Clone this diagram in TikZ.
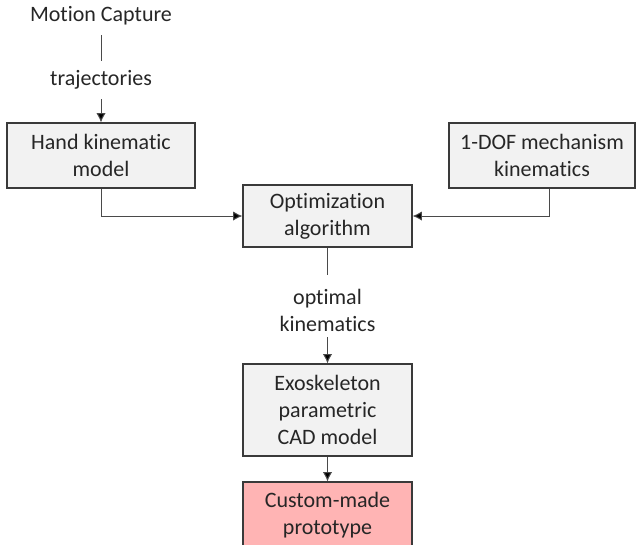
\documentclass[tikz,border=0pt]{standalone}
\usepackage{fontspec}
\setmainfont[Ligatures={NoCommon}]{Carlito}
\usetikzlibrary{arrows.meta}
\definecolor{boxgray}{HTML}{F2F2F2}
\definecolor{boxpink}{HTML}{FFB4B4}
\definecolor{edge}{HTML}{3A3A3A}
\definecolor{conn}{HTML}{4A4A4A}
\begin{document}
\begin{tikzpicture}[x=0.75pt,y=-0.75pt,
  every node/.style={font=\fontsize{16.5}{20.25}\selectfont, text=black!85},
  blk/.style={draw=edge, line width=0.9pt, fill=boxgray, align=center, inner sep=0pt, minimum width=126.75pt},
  lbl/.style={align=center, inner sep=0pt},
  conn/.style={draw=conn, line width=0.75pt},
  arr/.style={conn, -{Latex[length=7pt,width=7pt,fill=black]}}]
\useasboundingbox (0,0) rectangle (636,544);
\begin{scope}
\clip (0,0) rectangle (636,544);
\node[lbl, minimum height=28.5pt] (mc) at (101,16) {Motion Capture};
\node[lbl, minimum height=28.5pt] (traj) at (101,80) {trajectories};
\node[blk, minimum width=141pt, minimum height=48.75pt] (hand) at (101,155.5) {Hand kinematic\\model};
\node[blk, minimum width=139.5pt, minimum height=48.75pt] (dof) at (542,155.5) {1-DOF mechanism\\kinematics};
\node[blk, minimum height=46.5pt] (opt) at (327.5,216) {Optimization\\algorithm};
\node[lbl] (okin) at (327.5,310) {optimal\\kinematics};
\node[blk, minimum height=69pt] (exo) at (327.5,410) {Exoskeleton\\parametric\\CAD model};
\node[blk, fill=boxpink, minimum height=49.5pt] (proto) at (327.5,515) {Custom-made\\prototype};
\end{scope}
\draw[conn] (mc) -- (traj);
\draw[arr] (traj) -- (hand.north);
\draw[arr] (hand.south) |- (opt.west);
\draw[arr] ([xshift=5.25pt]dof.south) |- (opt.east);
\draw[conn, shorten >=10pt] (opt.south) -- (okin.north);
\draw[arr, shorten <=4.5pt] (okin.south) -- (exo.north);
\draw[arr] (exo.south) -- (proto.north);
\end{tikzpicture}
\end{document}
